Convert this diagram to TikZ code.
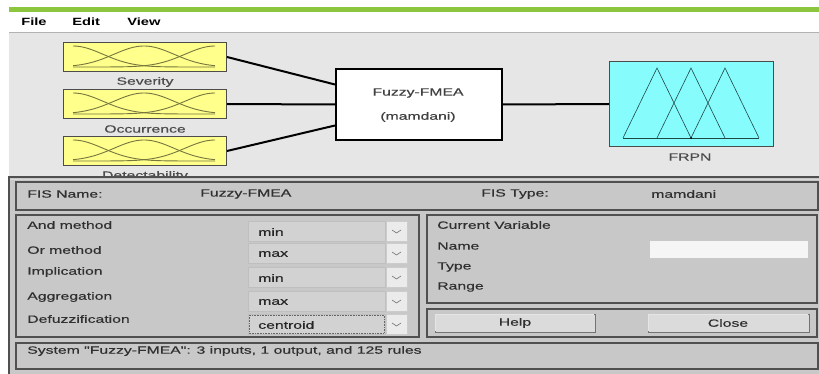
\documentclass[tikz,border=0pt]{standalone}
\usepackage{fontspec}
\setmainfont{Liberation Sans}
\newfontfamily\uifont{Liberation Sans}[FakeBold=0.35]
\definecolor{winbar}{HTML}{8CC63F}
\definecolor{upgray}{HTML}{E6E6E6}
\definecolor{pangray}{HTML}{C8C8C8}
\definecolor{edge}{HTML}{505050}
\definecolor{mfyellow}{HTML}{FFFF8C}
\definecolor{mfline}{HTML}{76763E}
\definecolor{outcyan}{HTML}{86FCFC}
\definecolor{outline}{HTML}{204848}
\definecolor{fieldgray}{HTML}{D2D2D2}
\definecolor{txtgray}{HTML}{303030}
\tikzset{
  uitext/.style={inner sep=0pt, anchor=west, text=txtgray,
    font=\uifont\fontsize{10.5}{12}\selectfont, xscale=1.5},
  menutext/.style={inner sep=0pt, anchor=west, text=black,
    font=\bfseries\fontsize{10.5}{12}\selectfont, xscale=1.4},
  ctext/.style={uitext, anchor=center},
  inbox/.style={draw=black!70, line width=1pt, fill=mfyellow, minimum width=163pt,
    minimum height=29pt, inner sep=0pt},
  panel/.style={draw=edge, line width=1.2pt, fill=pangray},
  dropbox/.style={draw=black!25, fill=fieldgray, line width=0.5pt},
  dropbtn/.style={draw=black!20, fill=black!8, line width=0.5pt},
  button/.style={draw=black!55, line width=0.8pt, fill=black!14},
  connector/.style={line width=2pt, black},
  mfcurve/.style={mfline, line width=0.9pt},
  tri/.style={outline, line width=0.6pt}
}
\begin{document}
\begin{tikzpicture}[x=1pt,y=-1pt]
\useasboundingbox (0,0) rectangle (819,374);
\fill[white] (0,0) rectangle (819,374);
% window title strip and menu bar
\fill[winbar] (9,7) rectangle (819,12);
\node[menutext] (mfile) at (21,22) {File};
\node[menutext] (medit) at (72,22) {Edit};
\node[menutext] (mview) at (127,22) {View};
% diagram area
\fill[upgray] (9,32) rectangle (819,177);
\draw[black!30, line width=0.8pt] (9,32) -- (819,32);

% input variables with three gaussian membership functions each
\foreach \nm/\top/\lab in {sev/42/Severity, occ/89/Occurrence, det/136/Detectability}{
  \node[inbox, anchor=north west] (\nm) at (63,\top) {};
  \begin{scope}[shift={(0,\top)}]
    \draw[mfcurve] plot[domain=73:215, samples=50] (\x, {25-21*exp(-0.5*((\x-73)/30)^2)});
    \draw[mfcurve] plot[domain=73:215, samples=50] (\x, {25-21*exp(-0.5*((\x-144)/30)^2)});
    \draw[mfcurve] plot[domain=73:215, samples=50] (\x, {25-21*exp(-0.5*((\x-215)/30)^2)});
  \end{scope}
  \node[ctext, text=black!70] (\nm-lab) at ([yshift=-10pt]\nm.south) {\lab};
}

% rule block
\node[draw=black, line width=2pt, fill=white, minimum width=166pt, minimum height=71pt,
  inner sep=0pt, anchor=north west] (fis) at (335,68) {};
\node[ctext, text=black!75] (fis-name) at (418,93) {Fuzzy-FMEA};
\node[ctext, text=black!75] (fis-kind) at (418,117) {(mamdani)};

% output variable with three triangular membership functions
\node[draw=black!70, line width=1pt, fill=outcyan, minimum width=164pt, minimum height=85pt,
  inner sep=0pt, anchor=north west] (frpn) at (609,61) {};
\draw[tri] (623,138) -- (657,68) -- (691,138);
\draw[tri] (657,138) -- (691,68) -- (725,138);
\draw[tri] (691,138) -- (725,68) -- (759,138);
\draw[tri] (623,138) -- (759,138);
\fill[black] (691,138) circle (1pt);
\node[ctext, text=black!70] (frpn-lab) at (690,157) {FRPN};

% connectors
\draw[connector] (sev.east) -- ([yshift=20pt]fis.west);
\draw[connector] (occ.east) -- (fis.west);
\draw[connector] (det.east) -- ([yshift=-21pt]fis.west);
\draw[connector] (fis.east) -- (frpn.west);

% lower property panel
\fill[pangray] (9,177) rectangle (819,374);
\draw[edge, line width=1.2pt] (9,374) -- (9,177) -- (819,177);
\draw[white!85!black, line width=0.6pt] (10,179) -- (819,179);

% FIS name/type strip
\draw[panel] (16,182) rectangle (818,210);
\node[uitext] (fisname-l) at (27,194) {FIS Name:};
\node[uitext] (fisname-v) at (200,194) {Fuzzy-FMEA};
\node[uitext] (fistype-l) at (481,194) {FIS Type:};
\node[uitext] (fistype-v) at (651,194) {mamdani};

% method selectors
\draw[panel] (16,215) rectangle (419,337);
\foreach \nm/\ly/\lab/\cy/\val in {and/225/And method/231/min, or/250/Or method/253/max,
    imp/272/Implication/277/min, agg/297/Aggregation/301/max, defuzz/319/Defuzzification/324/centroid}{
  \node[uitext] (\nm-lab) at (27,\ly) {\lab};
  \draw[dropbox] (248,\cy-10) rectangle (385,\cy+10);
  \draw[dropbtn] (386,\cy-10) rectangle (407,\cy+10);
  \draw[black!55, line width=0.6pt] (392,\cy-1) -- (396.5,\cy+2) -- (401,\cy-1);
  \node[uitext, text=black!85] (\nm-val) at (258,\cy+1) {\val};
}
\draw[black!60, densely dotted, line width=0.6pt] (249,315) rectangle (384,333);

% current variable
\draw[panel] (427,215) rectangle (817,303);
\node[uitext] (cv-lab) at (437,225) {Current Variable};
\node[uitext] (cv-name) at (437,246) {Name};
\node[uitext] (cv-type) at (437,267) {Type};
\node[uitext] (cv-range) at (437,287) {Range};
\fill[black!4] (650,241) rectangle (808,258);

% buttons
\draw[panel] (427,309) rectangle (817,337);
\draw[button] (435,314) rectangle (595,332);
\draw[white!90!black, line width=0.8pt] (435.5,331) -- (435.5,314.5) -- (594,314.5);
\node[ctext] (help) at (515,323) {Help};
\draw[button] (648,314) rectangle (809,332);
\draw[white!90!black, line width=0.8pt] (648.5,331) -- (648.5,314.5) -- (808,314.5);
\node[ctext] (close) at (728,323) {Close};

% status line
\draw[panel] (16,343) rectangle (818,369);
\node[uitext] (status) at (27,351) {System "Fuzzy-FMEA": 3 inputs, 1 output, and 125 rules};
\end{tikzpicture}
\end{document}
